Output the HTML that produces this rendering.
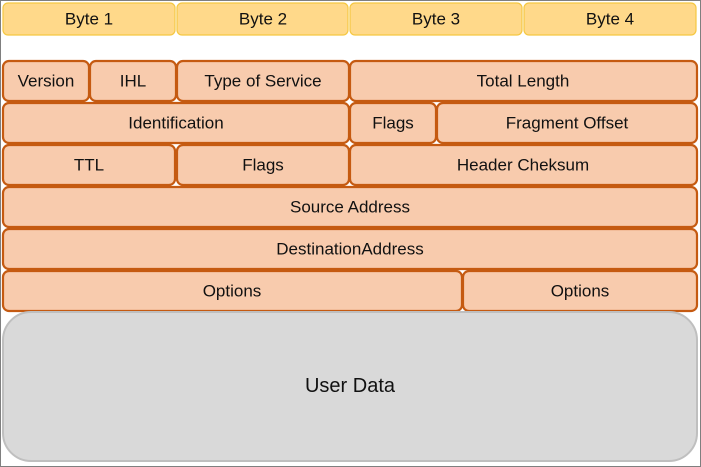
<!DOCTYPE html>
<html><head><meta charset="utf-8"><style>
html,body{margin:0;padding:0;background:#fff}
svg{display:block}
text{font-family:"Liberation Sans",Arial,sans-serif;font-size:17px;fill:#111;text-anchor:middle;dominant-baseline:central}
.b{fill:#ffd98a;stroke:#f5c842;stroke-width:1.2}
.o{fill:#f8cbad;stroke:#c55a11;stroke-width:2.2}
</style></head><body>
<svg width="701" height="467" viewBox="0 0 701 467" xmlns="http://www.w3.org/2000/svg">
<rect x="0.5" y="0.5" width="700" height="466" fill="#fff" stroke="#7f7f7f" stroke-width="1"/>
<rect class="b" x="3" y="3" width="172" height="32" rx="5"/><text x="89" y="19">Byte 1</text>
<rect class="b" x="177" y="3" width="171" height="32" rx="5"/><text x="263" y="19">Byte 2</text>
<rect class="b" x="350" y="3" width="172" height="32" rx="5"/><text x="436" y="19">Byte 3</text>
<rect class="b" x="524" y="3" width="172" height="32" rx="5"/><text x="610" y="19">Byte 4</text>

<rect class="o" x="3" y="61" width="86" height="40" rx="6"/><text x="46" y="81">Version</text>
<rect class="o" x="90" y="61" width="86" height="40" rx="6"/><text x="133" y="81">IHL</text>
<rect class="o" x="177" y="61" width="172" height="40" rx="6"/><text x="263" y="81">Type of Service</text>
<rect class="o" x="350" y="61" width="347" height="40" rx="6"/><text x="523" y="81">Total Length</text>

<rect class="o" x="3" y="103" width="346" height="40" rx="6"/><text x="176" y="123">Identification</text>
<rect class="o" x="350" y="103" width="86" height="40" rx="6"/><text x="393" y="123">Flags</text>
<rect class="o" x="437" y="103" width="260" height="40" rx="6"/><text x="567" y="123">Fragment Offset</text>

<rect class="o" x="3" y="145" width="172" height="40" rx="6"/><text x="89" y="165">TTL</text>
<rect class="o" x="177" y="145" width="172" height="40" rx="6"/><text x="263" y="165">Flags</text>
<rect class="o" x="350" y="145" width="347" height="40" rx="6"/><text x="523" y="165">Header Cheksum</text>

<rect class="o" x="3" y="187" width="694" height="40" rx="6"/><text x="350" y="207">Source Address</text>
<rect class="o" x="3" y="229" width="694" height="40" rx="6"/><text x="350" y="249">DestinationAddress</text>

<rect class="o" x="3" y="271" width="459" height="40" rx="6"/><text x="232" y="291">Options</text>
<rect class="o" x="463" y="271" width="234" height="40" rx="6"/><text x="580" y="291">Options</text>

<rect x="3" y="312" width="694" height="149" rx="28" fill="#d9d9d9" stroke="#bfbfbf" stroke-width="2"/>
<text x="350" y="386" style="font-size:20px">User Data</text>
</svg>
</body></html>
